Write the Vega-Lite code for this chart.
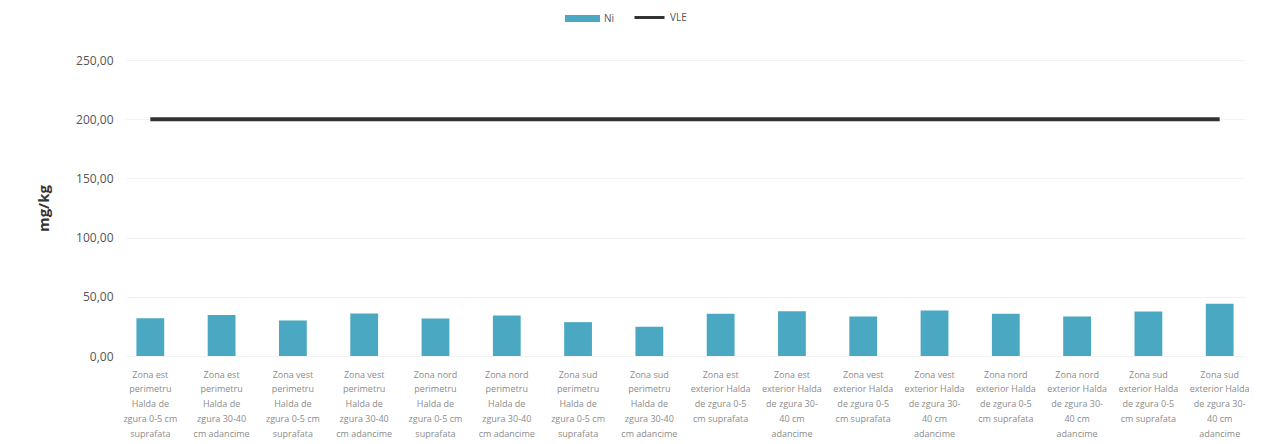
{
  "$schema": "https://vega.github.io/schema/vega-lite/v6.json",
  "autosize": {"type": "none"},
  "width": 1120,
  "height": 296,
  "padding": {"left": 125, "top": 60, "right": 25, "bottom": 88},
  "background": "white",
  "config": {"view": {"stroke": null}, "font": "Open Sans"},
  "data": {"values": [
    {"zona": "Zona est\nperimetru\nHalda de\nzgura 0-5 cm\nsuprafata", "Ni": 31.9, "VLE": 200},
    {"zona": "Zona est \nperimetru \nHalda de \nzgura 30-40\ncm adancime", "Ni": 34.7, "VLE": 200},
    {"zona": "Zona vest\nperimetru\nHalda de\nzgura 0-5 cm\nsuprafata", "Ni": 29.9, "VLE": 200},
    {"zona": "Zona vest \nperimetru \nHalda de \nzgura 30-40\ncm adancime", "Ni": 35.8, "VLE": 200},
    {"zona": "Zona nord\nperimetru\nHalda de\nzgura 0-5 cm\nsuprafata", "Ni": 31.6, "VLE": 200},
    {"zona": "Zona nord \nperimetru \nHalda de \nzgura 30-40\ncm adancime", "Ni": 34.2, "VLE": 200},
    {"zona": "Zona sud\nperimetru\nHalda de\nzgura 0-5 cm\nsuprafata", "Ni": 28.6, "VLE": 200},
    {"zona": "Zona sud \nperimetru \nHalda de \nzgura 30-40\ncm adancime", "Ni": 24.8, "VLE": 200},
    {"zona": "Zona est\nexterior Halda\nde zgura 0-5\ncm suprafata", "Ni": 35.6, "VLE": 200},
    {"zona": "Zona est \nexterior Halda \nde zgura 30-\n40 cm\nadancime", "Ni": 37.9, "VLE": 200},
    {"zona": "Zona vest\nexterior Halda\nde zgura 0-5\ncm suprafata", "Ni": 33.3, "VLE": 200},
    {"zona": "Zona vest \nexterior Halda \nde zgura 30-\n40 cm\nadancime", "Ni": 38.4, "VLE": 200},
    {"zona": "Zona nord\nexterior Halda\nde zgura 0-5\ncm suprafata", "Ni": 35.6, "VLE": 200},
    {"zona": "Zona nord \nexterior Halda \nde zgura 30-\n40 cm\nadancime", "Ni": 33.3, "VLE": 200},
    {"zona": "Zona sud\nexterior Halda\nde zgura 0-5\ncm suprafata", "Ni": 37.5, "VLE": 200},
    {"zona": "Zona sud \nexterior Halda \nde zgura 30-\n40 cm\nadancime", "Ni": 44.1, "VLE": 200}
  ]},
  "encoding": {
    "x": {
      "field": "zona", "type": "nominal", "sort": null, "title": null,
      "scale": {"paddingInner": 0.61, "paddingOuter": 0.16},
      "axis": {
        "labelAngle": 0, "labelExpr": "split(datum.value, '\\n')",
        "labelFontSize": 9, "labelColor": "#8c8c8c", "labelLineHeight": 14.75,
        "labelPadding": 14, "labelLimit": 120, "labelOverlap": false,
        "ticks": false, "domain": false, "labelBaseline": "top"
      }
    }
  },
  "layer": [
    {
      "mark": {"type": "bar", "color": "#4aa8c2"},
      "encoding": {
        "y": {
          "field": "Ni", "type": "quantitative", "title": "mg/kg",
          "scale": {"domain": [0, 250], "nice": false},
          "axis": {
            "values": [0, 50, 100, 150, 200, 250],
            "labelExpr": "replace(format(datum.value, '.2f'), '.', ',')",
            "labelFontSize": 12, "labelColor": "#555555", "labelPadding": 12,
            "ticks": false, "domain": false, "gridColor": "#f3f3f3",
            "titleFontSize": 15, "titleFontWeight": "bold", "titleColor": "#333333",
            "titlePadding": 24
          }
        },
        "fill": {"datum": "Ni", "type": "nominal",
          "scale": {"domain": ["Ni"], "range": ["#4aa8c2"]},
          "legend": {
            "orient": "none", "legendX": 440, "legendY": -59, "title": null,
            "symbolType": "M-1,-0.2H1V0.2H-1Z", "symbolSize": 1225,
            "symbolStrokeWidth": 0, "labelFontSize": 10, "labelColor": "#555555"
          }
        }
      }
    },
    {
      "mark": {"type": "line", "strokeWidth": 4},
      "encoding": {
        "y": {"field": "VLE", "type": "quantitative"},
        "stroke": {"datum": "VLE", "type": "nominal",
          "scale": {"domain": ["VLE"], "range": ["#333333"]},
          "legend": {
            "orient": "none", "legendX": 508, "legendY": -59, "title": null,
            "symbolType": "stroke", "symbolSize": 900, "symbolStrokeWidth": 3,
            "labelFontSize": 10, "labelColor": "#555555"
          }
        }
      }
    }
  ]
}
